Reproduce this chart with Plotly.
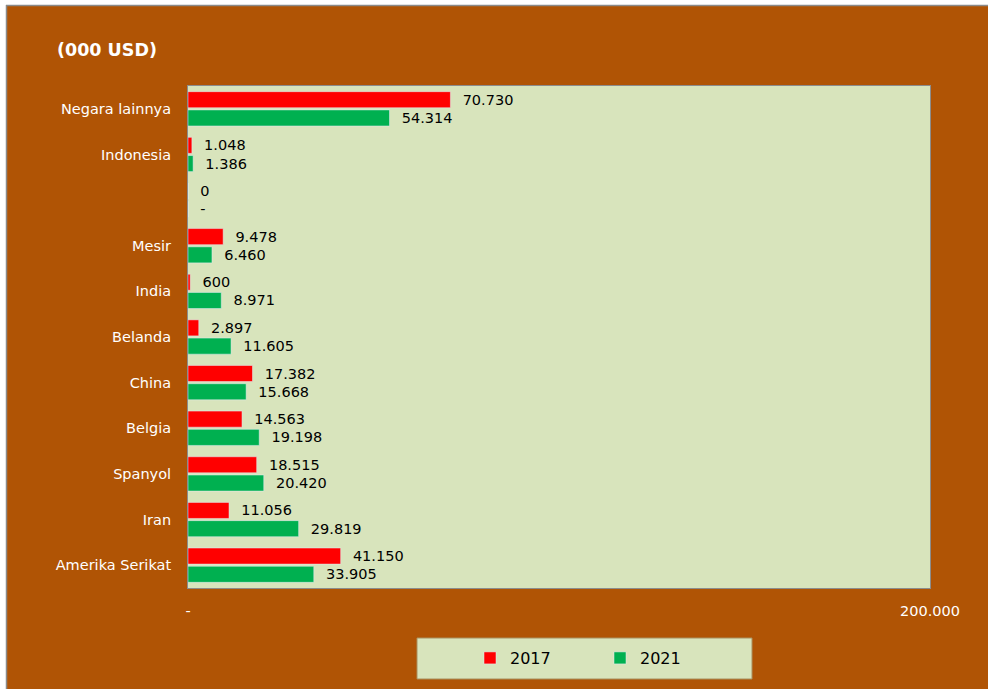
import plotly.graph_objects as go

# Export values by destination country (thousand USD), bottom to top
countries = ["Amerika Serikat", "Iran", "Spanyol", "Belgia", "China", "Belanda",
             "India", "Mesir", " ", "Indonesia", "Negara lainnya"]
values_2017 = [41150, 11056, 18515, 14563, 17382, 2897, 600, 9478, 0.4, 1048, 70730]
values_2021 = [33905, 29819, 20420, 19198, 15668, 11605, 8971, 6460, 0, 1386, 54314]

x_ticks = [0, 200000]
x_tick_labels = ["-", "200.000"]

BROWN = "#B05405"
PANEL = "#D8E4BC"
FONT = "DejaVu Sans"

W, H = 988, 689
L, R, T, B = 188, 58, 86, 101
PW, PH = W - L - R, H - T - B


def fmt(v):
    if v == 0:
        return "\u00a0\u00a0-"
    return "\u00a0\u00a0" + f"{round(v):,}".replace(",", ".")


def px_x(px):
    return (px - L) / PW


def px_y(py):
    return (H - B - py) / PH


fig = go.Figure()
fig.add_trace(go.Bar(
    y=countries, x=values_2021, name="2021", orientation="h",
    marker=dict(color="#00B050"),
    text=[fmt(v) for v in values_2021], textposition="outside",
    textfont=dict(family=FONT, size=14.5, color="#000000"),
    constraintext="none", cliponaxis=False, legendrank=2,
))
fig.add_trace(go.Bar(
    y=countries, x=values_2017, name="2017", orientation="h",
    marker=dict(color="#FF0000"),
    text=[fmt(v) for v in values_2017], textposition="outside",
    textfont=dict(family=FONT, size=14.5, color="#000000"),
    constraintext="none", cliponaxis=False, legendrank=1,
))

shapes = [
    # legend panel
    dict(type="rect", xref="paper", yref="paper",
         x0=px_x(417), x1=px_x(752), y0=px_y(679), y1=px_y(638),
         fillcolor=PANEL, line=dict(color="#A89060", width=1), layer="below"),
    # white frame strips at the top and left edges
    dict(type="rect", xref="paper", yref="paper",
         x0=px_x(0), x1=px_x(W), y0=px_y(5), y1=px_y(0),
         fillcolor="#FFFFFF", line=dict(width=0), layer="above"),
    dict(type="rect", xref="paper", yref="paper",
         x0=px_x(0), x1=px_x(6), y0=px_y(H), y1=px_y(0),
         fillcolor="#FFFFFF", line=dict(width=0), layer="above"),
    dict(type="line", xref="paper", yref="paper",
         x0=px_x(6), x1=px_x(W), y0=px_y(5.5), y1=px_y(5.5),
         line=dict(color="#8A8A8A", width=1.5), layer="above"),
    dict(type="line", xref="paper", yref="paper",
         x0=px_x(6.5), x1=px_x(6.5), y0=px_y(H), y1=px_y(5),
         line=dict(color="#8A8A8A", width=1.5), layer="above"),
]

fig.update_layout(
    width=W, height=H,
    margin=dict(l=L, r=R, t=T, b=B, pad=0),
    paper_bgcolor=BROWN, plot_bgcolor=PANEL,
    barmode="group", bargap=0.2, bargroupgap=0.12,
    showlegend=True,
    legend=dict(orientation="h", x=px_x(600), xanchor="center",
                y=px_y(658), yanchor="middle",
                bgcolor="rgba(0,0,0,0)", traceorder="normal",
                font=dict(family=FONT, size=16, color="#000000"),
                entrywidth=85, itemwidth=30),
    title=dict(text="<b>(000 USD)</b>", xref="container", yref="container",
               x=57 / W, y=1 - 50 / H, xanchor="left", yanchor="middle",
               font=dict(family=FONT, size=17.5, color="#FFFFFF")),
    xaxis=dict(range=[0, 200000], tickvals=x_ticks, ticktext=x_tick_labels,
               showgrid=False, zeroline=False, showline=True, mirror=True,
               linecolor="#8C8C8C", linewidth=1, ticks="",
               ticklabelstandoff=10,
               tickfont=dict(family=FONT, size=14.5, color="#FFFFFF")),
    yaxis=dict(categoryorder="array", categoryarray=countries,
               showgrid=False, showline=True, mirror=True,
               linecolor="#8C8C8C", linewidth=1, ticks="",
               ticklabelstandoff=13,
               tickfont=dict(family=FONT, size=14.5, color="#FFFFFF")),
    shapes=shapes,
)

fig.write_html("out.html")
